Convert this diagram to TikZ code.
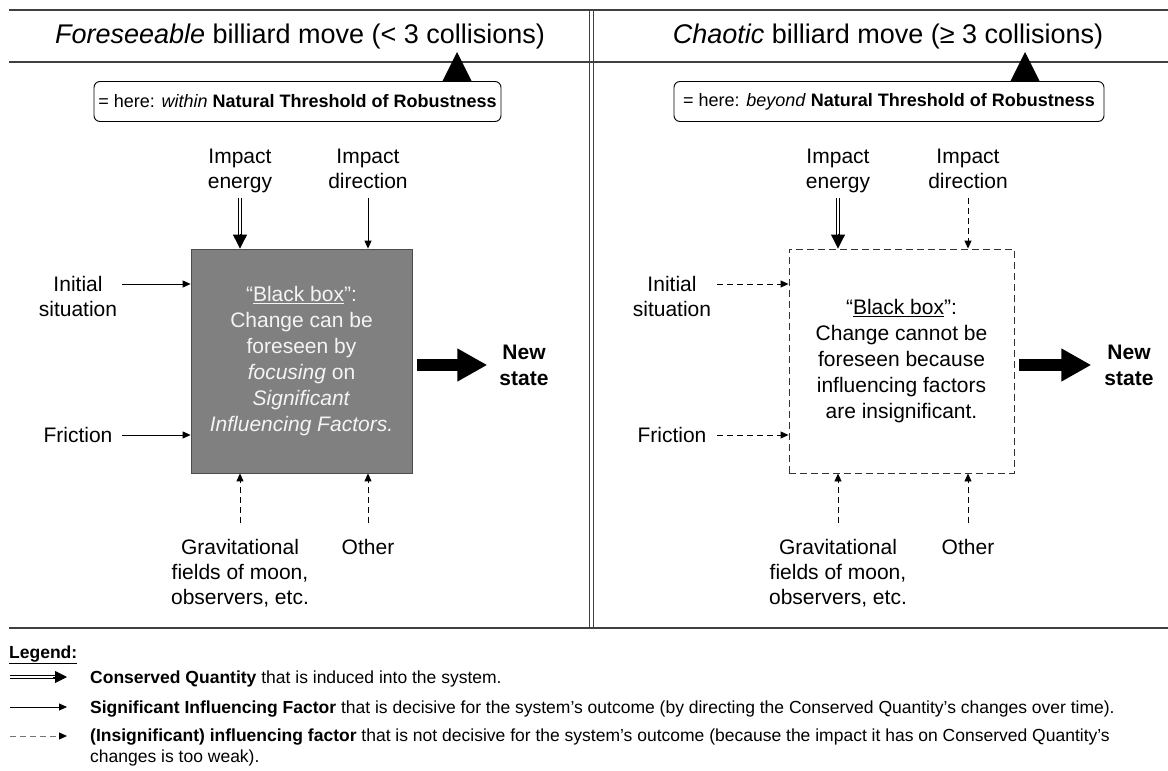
\documentclass[tikz,border=0pt]{standalone}
\usepackage{fontspec}
\setmainfont{Liberation Sans}
\usetikzlibrary{arrows.meta,calc}

\definecolor{boxgray}{HTML}{808080}
\definecolor{boxtext}{HTML}{F4F4F4}

\begin{document}
\begin{tikzpicture}[x=1pt,y=-1pt,
  frame/.style={line width=1.5pt, black!75},
  title/.style={font=\fontsize{27}{31}\selectfont, inner sep=0pt},
  callout/.style={draw, line width=0.9pt, rounded corners=6pt, minimum height=40pt,
    font=\fontsize{18}{22}\selectfont, inner sep=0pt},
  lbl/.style={align=center, font=\fontsize{21}{25}\selectfont, inner sep=0pt},
  toplbl/.style={lbl, anchor=north},
  boxtxt/.style={align=center, font=\fontsize{21}{26}\selectfont, inner sep=0pt},
  sig/.style={line width=0.9pt, -{Triangle[length=8pt,width=7pt]}},
  insig/.style={sig, dash pattern=on 6pt off 4pt},
  cq/.style={line width=0.9pt, double distance=2.8pt, shorten >=12pt},
  cqhead/.style={line width=0.9pt, -{Triangle[length=14pt,width=14pt]}},
  outarrow/.style={line width=12pt, -{Triangle[length=30pt,width=31pt]}},
  outtxt/.style={align=center, font=\fontsize{21}{26}\selectfont\bfseries, inner sep=0pt},
  legtxt/.style={anchor=base west, font=\fontsize{17.5}{21}\selectfont, inner sep=0pt, align=left},
]
\useasboundingbox (0,0) rectangle (1168,771);

% frame of the two panels
\draw[frame] (9,10) -- (1168,10);
\draw[frame] (9,62) -- (1168,62);
\draw[frame] (9,628) -- (1168,628);
\draw[frame] (589.5,10) -- (589.5,628);
\draw[frame] (593.5,10) -- (593.5,628);

% panel titles
\node[title] (t1) at (300,37) {\textit{Foreseeable} billiard move (< 3 collisions)};
\node[title] (t2) at (888,37) {\textit{Chaotic} billiard move (≥ 3 collisions)};

% callouts with their pointers
\fill (442,82) -- (457,52) -- (472,82) -- cycle;
\fill (1010,82) -- (1025,52) -- (1040,82) -- cycle;
\node[callout, fill=white, minimum width=407pt] (c1) at (297.5,101.5)
  {= here: \textit{within} \textbf{Natural Threshold of Robustness}};
\node[callout, fill=white, minimum width=430pt] (c2) at (889,101.5)
  {= here: \textit{beyond} \textbf{Natural Threshold of Robustness}};

% ---------------- left panel ----------------
\node[draw=black!70, line width=0.8pt, fill=boxgray, minimum width=221pt, minimum height=224pt,
  inner sep=0pt] (bb1) at (301.5,361) {};
\node[boxtxt, text=boxtext] (bt1) at (bb1.center)
  {“\underline{Black box}”:\\Change can be\\foreseen by\\\textit{focusing} on\\\textit{Significant}\\\textit{Influencing Factors.}};

\node[toplbl] (ie1) at (240,149) {Impact\\energy};
\node[toplbl] (id1) at (368,149) {Impact\\direction};
\node[lbl] (is1) at (78,296) {Initial\\situation};
\node[lbl] (fr1) at (78,435) {Friction};
\node[toplbl] (gf1) at (240,539) {Gravitational\\fields of moon,\\observers, etc.};
\node[toplbl] (ot1) at (368,539) {Other};
\node[outtxt] (ns1) at (524,365) {New\\state};

\coordinate (ie1s) at (240,198);
\coordinate (id1s) at (368,198);
\coordinate (is1s) at (122,284);
\coordinate (fr1s) at (122,435);
\coordinate (gf1s) at (240,523);
\coordinate (ot1s) at (368,523);

\draw[cq] (ie1s) -- (ie1s |- bb1.north);
\draw[cqhead] ([yshift=15pt]ie1s |- bb1.north) -- (ie1s |- bb1.north);
\draw[sig] (id1s) -- (id1s |- bb1.north);
\draw[sig] (is1s) -- (is1s -| bb1.west);
\draw[sig] (fr1s) -- (fr1s -| bb1.west);
\draw[insig] (gf1s) -- (gf1s |- bb1.south);
\draw[insig] (ot1s) -- (ot1s |- bb1.south);
\draw[outarrow] ([xshift=5pt]bb1.east |- ns1) -- ([xshift=-12pt]ns1.west);

% ---------------- right panel ----------------
\node[draw=black!80, line width=0.9pt, dash pattern=on 7pt off 4pt, minimum width=225pt,
  minimum height=224pt, inner sep=0pt] (bb2) at (901.5,361) {};
\node[boxtxt] (bt2) at (bb2.center)
  {“\underline{Black box}”:\\Change cannot be\\foreseen because\\influencing factors\\are insignificant.};

\node[toplbl] (ie2) at (838,149) {Impact\\energy};
\node[toplbl] (id2) at (968,149) {Impact\\direction};
\node[lbl] (is2) at (672,296) {Initial\\situation};
\node[lbl] (fr2) at (672,435) {Friction};
\node[toplbl] (gf2) at (838,539) {Gravitational\\fields of moon,\\observers, etc.};
\node[toplbl] (ot2) at (968,539) {Other};
\node[outtxt] (ns2) at (1129,365) {New\\state};

\coordinate (ie2s) at (838,198);
\coordinate (id2s) at (968,198);
\coordinate (is2s) at (717,284);
\coordinate (fr2s) at (717,435);
\coordinate (gf2s) at (838,523);
\coordinate (ot2s) at (968,523);

\draw[cq] (ie2s) -- (ie2s |- bb2.north);
\draw[cqhead] ([yshift=15pt]ie2s |- bb2.north) -- (ie2s |- bb2.north);
\draw[insig] (id2s) -- (id2s |- bb2.north);
\draw[insig] (is2s) -- (is2s -| bb2.west);
\draw[insig] (fr2s) -- (fr2s -| bb2.west);
\draw[insig] (gf2s) -- (gf2s |- bb2.south);
\draw[insig] (ot2s) -- (ot2s |- bb2.south);
\draw[outarrow] ([xshift=5pt]bb2.east |- ns2) -- ([xshift=-13pt]ns2.west);

% ---------------- legend ----------------
\node[legtxt, font=\fontsize{17.5}{21}\selectfont\bfseries] (lg) at (9,658) {\underline{Legend:}};

\coordinate (l1a) at (10,677); \coordinate (l1b) at (67,677);
\coordinate (l2a) at (10,707); \coordinate (l2b) at (67,707);
\coordinate (l3a) at (10,736); \coordinate (l3b) at (67,736);

\draw[line width=0.9pt, double distance=2.4pt, shorten >=10pt] (l1a) -- (l1b);
\draw[line width=0.9pt, -{Triangle[length=12pt,width=12pt]}] ([xshift=-14pt]l1b) -- (l1b);
\draw[sig] (l2a) -- (l2b);
\draw[line width=0.9pt, black!55, dash pattern=on 6pt off 4pt,
  -{Triangle[length=8pt,width=7pt,color=black]}] (l3a) -- (l3b);

\node[legtxt] (lt1) at (90,683) {\textbf{Conserved Quantity} that is induced into the system.};
\node[legtxt] (lt2) at (90,713) {\textbf{Significant Influencing Factor} that is decisive for the system’s outcome (by directing the Conserved Quantity’s changes over time).};
\node[legtxt, anchor=north west] (lt3) at (90,729) {\textbf{(Insignificant) influencing factor} that is not decisive for the system’s outcome (because the impact it has on Conserved Quantity’s\\changes is too weak).};
\end{tikzpicture}
\end{document}
